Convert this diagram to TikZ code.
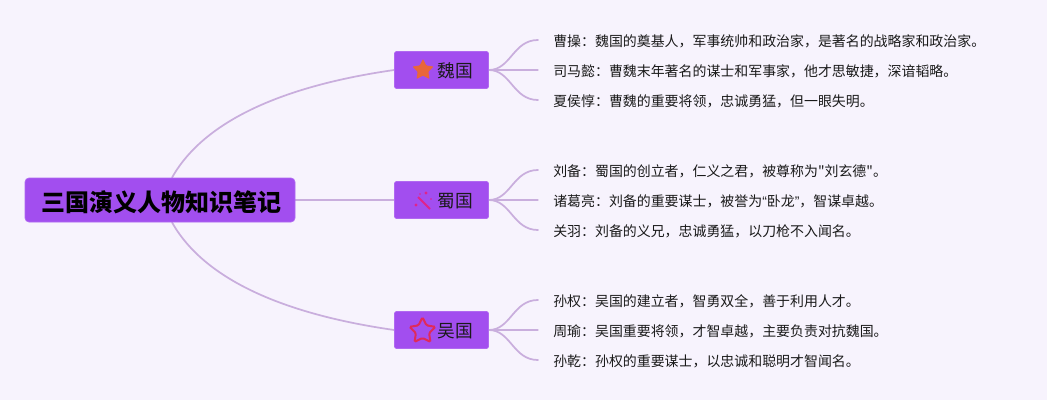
\documentclass[tikz,border=0pt]{standalone}
\usepackage{fontspec}
\newfontfamily\cjkf{Noto Sans CJK SC}
\newfontfamily\latf{Liberation Sans}
\usetikzlibrary{shapes.geometric,backgrounds,calc}
\definecolor{bgc}{HTML}{F7F3FD}
\definecolor{boxc}{HTML}{A24EEF}
\definecolor{linec}{HTML}{C9AEDD}
\definecolor{orangec}{HTML}{E9663A}
\definecolor{pinkc}{HTML}{E0248A}
\definecolor{redc}{HTML}{E02A5A}
\definecolor{textc}{HTML}{1A1A1A}
\newcommand{\myopenq}{{\latf\char"201C}}
\newcommand{\mycloseq}{{\latf\char"201D}}
\tikzset{
  x=0.75pt,y=-0.75pt,
  rootbox/.style={fill=boxc,draw=boxc!85!white,line width=0.5pt,rounded corners=3pt,minimum width=270*0.75pt,minimum height=44*0.75pt,inner sep=0pt},
  topicbox/.style={fill=boxc,draw=boxc!85!white,line width=0.5pt,rounded corners=1.5pt,minimum width=94*0.75pt,minimum height=37*0.75pt,inner sep=0pt},
  roottext/.style={font=\cjkf\fontsize{18pt}{20pt}\selectfont\bfseries,text=black,inner sep=0pt},
  topictext/.style={font=\cjkf\fontsize{13.3pt}{15pt}\selectfont,text=textc,inner sep=0pt,anchor=west},
  leaf/.style={font=\cjkf\fontsize{10.45pt}{13pt}\selectfont,text=textc,inner sep=0pt,anchor=west},
  link/.style={draw=linec,line width=1.3pt,line cap=round},
  startag/.style={star,star points=5,star point ratio=1.95,inner sep=0pt},
}
\begin{document}
\begin{tikzpicture}
\useasboundingbox (0,0) rectangle (1047,400);

\node[rootbox] (root) at (160,200) {};
\node[topicbox] (wei) at (441.5,70) {};
\node[topicbox] (shu) at (441.5,200) {};
\node[topicbox] (wu) at (441.5,330) {};

\node[roottext] (roott) at (161,202) {三国演义人物知识笔记};

\node[topictext] (weit) at (437,71) {魏国};
\node[topictext] (shut) at (437,201) {蜀国};
\node[topictext] (wut) at (437,331) {吴国};

% icons
\node[startag,fill=orangec,minimum size=22*0.75pt,rounded corners=0.5pt] (icw) at (423,70) {};
\node[startag,draw=redc,line width=1.5pt,minimum size=27*0.75pt,rounded corners=1pt] (icn) at (422.5,331) {};
\draw[pinkc,line width=1.4pt] (418,197) -- (430,209);
\fill[pinkc] (426,193) circle (1.6);
\fill[pinkc] (416,205) circle (1.6);
\fill[pinkc] (431,199) circle (0.8);
\fill[pinkc] (420,194) circle (0.8);

% leaves
\node[leaf] (a1) at (553,41) {曹操：魏国的奠基人，军事统帅和政治家，是著名的战略家和政治家。};
\node[leaf] (a2) at (553,71) {司马懿：曹魏末年著名的谋士和军事家，他才思敏捷，深谙韬略。};
\node[leaf] (a3) at (553,101) {夏侯惇：曹魏的重要将领，忠诚勇猛，但一眼失明。};
\node[leaf] (b1) at (553,171) {刘备：蜀国的创立者，仁义之君，被尊称为"刘玄德"。};
\node[leaf] (b2) at (553,201) {诸葛亮：刘备的重要谋士，被誉为\myopenq 卧龙\mycloseq ，智谋卓越。};
\node[leaf] (b3) at (553,231) {关羽：刘备的义兄，忠诚勇猛，以刀枪不入闻名。};
\node[leaf] (c1) at (553,301) {孙权：吴国的建立者，智勇双全，善于利用人才。};
\node[leaf] (c2) at (553,331) {周瑜：吴国重要将领，才智卓越，主要负责对抗魏国。};
\node[leaf] (c3) at (553,361) {孙乾：孙权的重要谋士，以忠诚和聪明才智闻名。};

\begin{pgfonlayer}{background}
\fill[bgc] (0,0) rectangle (1047,400);
\draw[link] ($(root.north)+(12,0)$) .. controls (210,110) and (310,82) .. (wei.west);
\draw[link] (root.east) -- (shu.west);
\draw[link] ($(root.south)+(12,0)$) .. controls (210,290) and (310,318) .. (wu.west);
\foreach \src/\la/\lb/\lc in {wei/a1/a2/a3, shu/b1/b2/b3, wu/c1/c2/c3}{
  \draw[link] (\src.east) -- ($(\src.east)+(49,0)$);
  \draw[link] (\src.east) .. controls +(22,0) and ($(\la.west)+(-40,-1)$) .. ($(\la.west)+(-15,-1)$);
  \draw[link] (\src.east) .. controls +(22,0) and ($(\lc.west)+(-40,-1)$) .. ($(\lc.west)+(-15,-1)$);
}
\end{pgfonlayer}
\end{tikzpicture}
\end{document}
